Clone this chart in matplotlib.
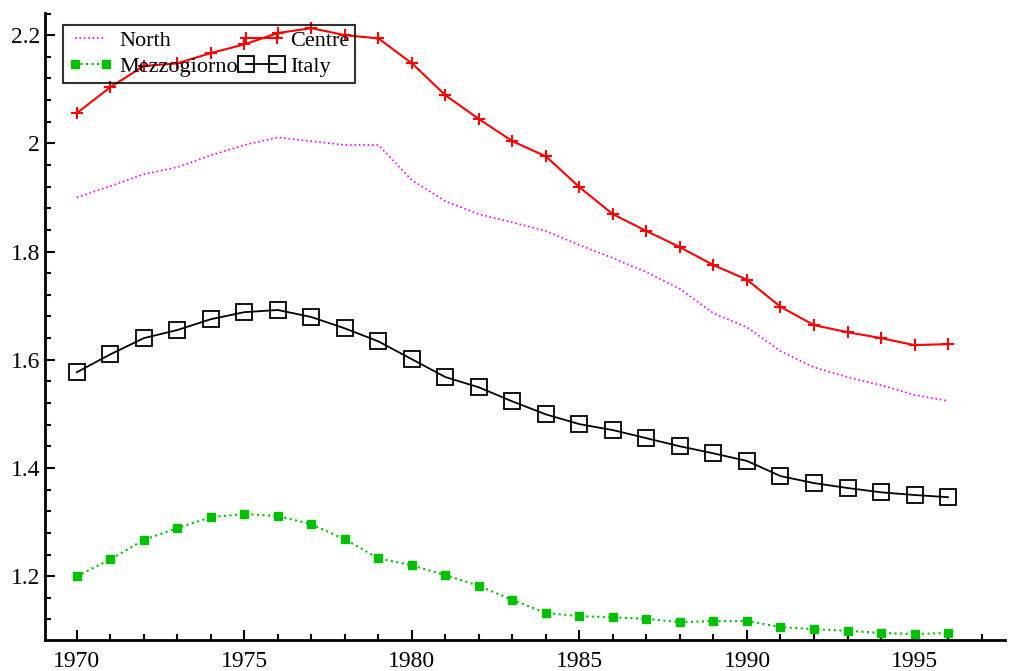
import numpy as np
import matplotlib.pyplot as plt
from matplotlib.ticker import MultipleLocator

years = list(range(1970, 1997))

north = [1.900, 1.921, 1.943, 1.956, 1.978, 1.997, 2.011, 2.004, 1.997, 1.997,
         1.932, 1.893, 1.869, 1.854, 1.838, 1.812, 1.788, 1.762, 1.731, 1.686,
         1.660, 1.616, 1.586, 1.568, 1.553, 1.535, 1.524]
centre = [2.056, 2.104, 2.143, 2.148, 2.167, 2.183, 2.204, 2.213, 2.200, 2.194,
          2.148, 2.089, 2.045, 2.004, 1.976, 1.919, 1.869, 1.838, 1.808, 1.775,
          1.748, 1.698, 1.664, 1.651, 1.640, 1.627, 1.629]
mezzogiorno = [1.200, 1.231, 1.267, 1.289, 1.309, 1.315, 1.311, 1.296, 1.268, 1.233,
               1.220, 1.202, 1.182, 1.156, 1.132, 1.126, 1.124, 1.121, 1.115, 1.117,
               1.117, 1.106, 1.102, 1.099, 1.095, 1.093, 1.095]
italy = [1.577, 1.610, 1.640, 1.655, 1.675, 1.688, 1.692, 1.679, 1.658, 1.634,
         1.601, 1.568, 1.549, 1.523, 1.499, 1.481, 1.470, 1.455, 1.440, 1.427,
         1.413, 1.385, 1.372, 1.363, 1.355, 1.350, 1.346]

plt.rcParams['font.family'] = ['Liberation Serif', 'DejaVu Serif']

fig = plt.figure(figsize=(10.09, 6.71), dpi=100)
ax = fig.add_axes([45 / 1009, 31 / 671, 960 / 1009, 627 / 671])

l_north, = ax.plot(years, north, color='#ff00ff', linestyle=':', linewidth=1.2, label='North')
l_centre, = ax.plot(years, centre, color='#ff0000', linewidth=1.5, marker='+', markersize=9,
                    markeredgewidth=1.5, label='Centre')
l_mezz, = ax.plot(years, mezzogiorno, color='#00c000', linestyle=':', linewidth=1.5, marker='s',
                  markersize=6, label='Mezzogiorno')
l_italy, = ax.plot(years, italy, color='black', linewidth=1.3, marker='s', markersize=12,
                   markerfacecolor='none', markeredgewidth=1.3, label='Italy')

ax.set_xlim(1969.05, 1997.7)
ax.set_ylim(1.082, 2.241)

ax.xaxis.set_major_locator(MultipleLocator(5))
ax.xaxis.set_minor_locator(MultipleLocator(1))
ax.yaxis.set_major_locator(MultipleLocator(0.2))
ax.yaxis.set_minor_locator(MultipleLocator(0.04))
ax.yaxis.set_major_formatter(plt.FuncFormatter(lambda v, p: f'{v:g}'))

ax.tick_params(which='major', direction='in', length=7, width=1.5, labelsize=17)
ax.tick_params(which='minor', direction='in', length=4, width=1.5)
ax.tick_params(axis='x', pad=8)

for s in ['top', 'right']:
    ax.spines[s].set_visible(False)
for s in ['left', 'bottom']:
    ax.spines[s].set_linewidth(2)

# column-wise fill: North / Mezzogiorno in first column, Centre / Italy in second
leg = ax.legend([l_north, l_mezz, l_centre, l_italy],
                ['North', 'Mezzogiorno', 'Centre', 'Italy'],
                ncol=2, loc='upper left', bbox_to_anchor=(18 / 960, 1 - 12 / 627),
                fontsize=16, frameon=True, fancybox=False, edgecolor='black',
                facecolor='none', framealpha=None,
                handlelength=2.0, handletextpad=0.3, columnspacing=0.05,
                borderpad=0.25, labelspacing=0.25, borderaxespad=0, numpoints=2)
leg.get_frame().set_linewidth(1.5)

fig.savefig('out.png', dpi=100)
